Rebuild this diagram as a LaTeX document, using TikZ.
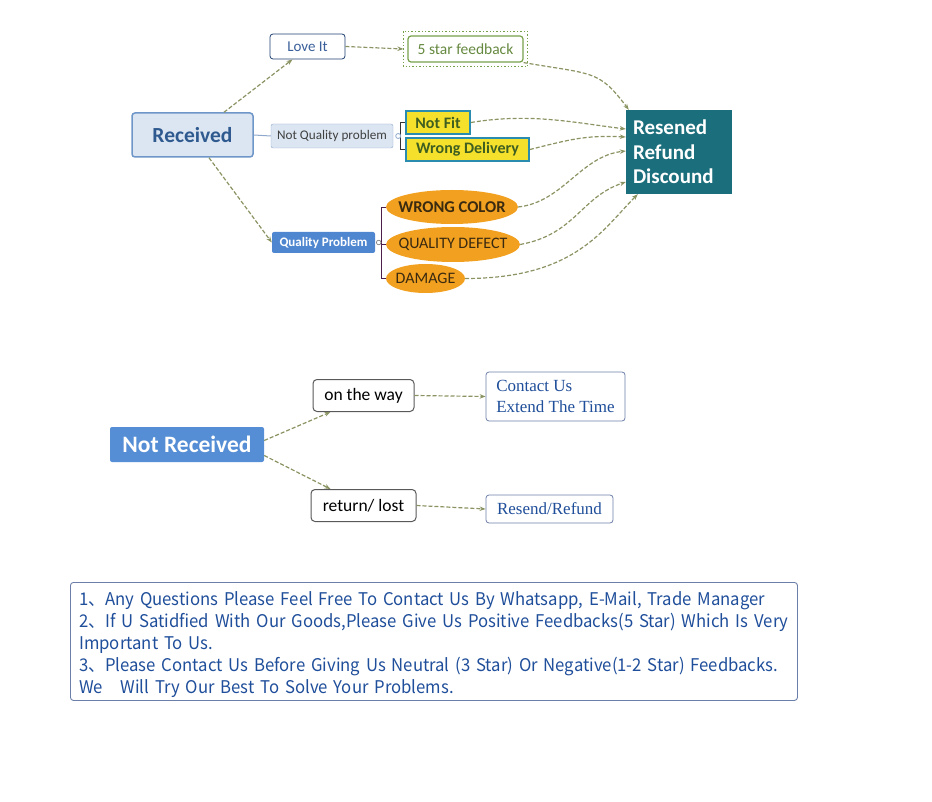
\documentclass[tikz,border=0pt]{standalone}
\usepackage{fontspec}
\setmainfont{Carlito}
\newfontfamily\cjkfont[FakeStretch=0.955]{Noto Sans CJK SC}
\newfontfamily\bookfont{Liberation Serif}
\usepackage{xcolor}
\usetikzlibrary{arrows.meta, positioning, shapes.geometric}

\definecolor{linkgreen}{HTML}{8A9463}
\definecolor{recfill}{HTML}{DCE6F2}
\definecolor{recdraw}{HTML}{6F96C8}
\definecolor{rectext}{HTML}{2F5A8F}
\definecolor{navy}{HTML}{1F3F72}
\definecolor{navytext}{HTML}{3A5F9A}
\definecolor{leafgreen}{HTML}{77A04A}
\definecolor{nqdraw}{HTML}{8EA9CC}
\definecolor{signyellow}{HTML}{F5E02C}
\definecolor{signdraw}{HTML}{2A8DB0}
\definecolor{signtext}{HTML}{3F5F20}
\definecolor{tealbox}{HTML}{1B6F7C}
\definecolor{qpfill}{HTML}{4F86D0}
\definecolor{nrfill}{HTML}{558ED5}
\definecolor{ovalfill}{HTML}{F2A01F}
\definecolor{ovaltext}{HTML}{3A2A10}
\definecolor{notedraw}{HTML}{6C7FA8}
\definecolor{notetext}{HTML}{1F4E9A}
\definecolor{brackpurple}{HTML}{4B1E4B}

\newcommand{\ovallabel}[1]{\makebox[0pt]{#1}}

\begin{document}
\begin{tikzpicture}[x=1pt, y=-1pt,
    every node/.style={inner sep=0pt, align=center},
    link/.style={draw=linkgreen, line width=1.2pt, dash pattern=on 4pt off 2pt,
        -{Stealth[length=6pt, width=4.5pt]}},
    rootbox/.style={draw=recdraw, fill=recfill, line width=1.5pt, rounded corners=3pt,
        text=rectext, font=\fontsize{21.5}{24}\selectfont\bfseries},
    whitebox/.style={draw=navy, fill=white, rounded corners=3pt, line width=0.8pt,
        text=navytext, font=\fontsize{15}{18}\selectfont},
    greybox/.style={draw=black!65, fill=white, rounded corners=4pt, line width=1pt,
        text=black, font=\fontsize{17.5}{20}\selectfont},
    signbox/.style={draw=signdraw, fill=signyellow, line width=1.8pt,
        text=signtext, font=\fontsize{16}{18}\selectfont\bfseries},
    bluebox/.style={rounded corners=2pt, text=white, font=\bfseries},
    oval/.style={ellipse, fill=ovalfill, text=ovaltext, font=\fontsize{16}{18}\selectfont},
    bookbox/.style={draw=notedraw, fill=white, rounded corners=3pt, line width=0.8pt,
        text=notetext, font=\bookfont\fontsize{17}{21}\selectfont, align=left},
]
\useasboundingbox (0,0) rectangle (932,802);

% received branch
\node[rootbox, minimum width=121, minimum height=44] (received) at (192.5,135) {Received};
\node[whitebox, minimum width=75, minimum height=25] (love) at (307.5,46.5) {Love It};
\node[draw=leafgreen, line width=1.2pt, rounded corners=3pt, text=leafgreen!85!black,
    minimum width=115, minimum height=26, font=\fontsize{15.5}{17}\selectfont]
    (star) at (465.5,49) {5 star feedback};
\draw[leafgreen, dotted, line width=1.4pt] ([shift={(-4,-4)}]star.north west) rectangle ([shift={(4,4)}]star.south east);

\node[draw=nqdraw, fill=recfill, rounded corners=2pt, text=black!75,
    minimum width=122, minimum height=24, font=\fontsize{13.2}{15}\selectfont]
    (nq) at (332,136) {Not Quality problem};
\node[signbox, minimum width=64, minimum height=23] (notfit) at (438,122.5) {Not Fit};
\node[signbox, minimum width=123, minimum height=23] (wrongdel) at (467.5,149.5) {Wrong Delivery};

\node[bluebox, fill=qpfill, minimum width=103, minimum height=21,
    font=\fontsize{13}{14}\selectfont\bfseries] (qp) at (323.5,242.5) {Quality Problem};
\node[oval, minimum width=132, minimum height=34, font=\fontsize{16.5}{18}\selectfont\bfseries]
    (wcolor) at (452,207) {\ovallabel{WRONG COLOR}};
\node[oval, minimum width=134, minimum height=35] (qdefect) at (453,244.5) {\ovallabel{QUALITY DEFECT}};
\node[oval, minimum width=79, minimum height=29] (damage) at (425.5,278.5) {\ovallabel{DAMAGE}};

\node[fill=tealbox, text=white, minimum width=106, minimum height=84, align=left,
    font=\fontsize{21}{24.5}\selectfont\bfseries, text width=92]
    (res) at (679,152) {Resened\\Refund\\Discound};

\draw[nqdraw, line width=1pt] (received.east) -- (nq.west);
\draw[black!80, line width=0.8pt] (notfit.west) -- ++(-4.5,0) |- (wrongdel.west);
\draw[nqdraw, fill=white, line width=0.8pt] ([shift={(5,0)}]nq.east) circle (2.5);
\draw[brackpurple, line width=0.8pt] (wcolor.west) -- ++(-4,0) |- (damage.west);
\draw[brackpurple] ([shift={(-4,0)}]qdefect.west) -- (qdefect.west);
\draw[black!50, fill=white, line width=0.7pt] ([shift={(3.5,0)}]qp.east) circle (2.3);

\draw[link] ([shift={(31.5,0)}]received.north) -- ([shift={(-15,0)}]love.south);
\draw[link] ([shift={(16.5,0)}]received.south) -- (qp.west);
\draw[link] (love.east) -- ([shift={(-4,0)}]star.west);
\draw[link] (star.south east) .. controls +(70,12) and +(-30,-40) .. ([shift={(3,0)}]res.north west);
\draw[link] (notfit.east) .. controls +(60,-10) and +(-50,-6) .. ([shift={(0,-23)}]res.west);
\draw[link] (wrongdel.east) .. controls +(40,-10) and +(-40,-2) .. ([shift={(0,-15)}]res.west);
\draw[link] (wcolor.east) .. controls +(45,-5) and +(-45,5) .. ([shift={(0,-1)}]res.west);
\draw[link] (qdefect.east) .. controls +(55,-10) and +(-45,15) .. ([shift={(0,30)}]res.west);
\draw[link] (damage.east) .. controls +(110,0) and +(-35,35) .. ([shift={(12,0)}]res.south west);

% not received branch
\node[bluebox, fill=nrfill, minimum width=154, minimum height=35,
    font=\fontsize{23.5}{26}\selectfont\bfseries] (nr) at (187,444.5) {Not Received};
\node[greybox, minimum width=101, minimum height=32] (otw) at (363.5,395.5) {on the way};
\node[greybox, minimum width=105, minimum height=32] (lost) at (363.5,505.5) {return/ lost};
\node[bookbox, minimum width=139, minimum height=49] (contact) at (555.5,396.5)
    {Contact Us\\Extend The Time};
\node[bookbox, minimum width=127, minimum height=28] (resend) at (549.5,509) {Resend/Refund};

\draw[link] ([shift={(0,-4)}]nr.east) -- ([shift={(-33,0)}]otw.south);
\draw[link] ([shift={(0,11)}]nr.east) -- ([shift={(-33,0)}]lost.north);
\draw[link] (otw.east) -- (contact.west);
\draw[link] (lost.east) -- (resend.west);

% note
\node[draw=notedraw, rounded corners=3pt, line width=0.9pt, anchor=north west,
    minimum width=727, minimum height=118] (note) at (70,582) {};
\node[anchor=north west, text width=715, align=left, text=notetext,
    font=\cjkfont\fontsize{17.5}{22}\selectfont] (notetext) at ([shift={(9,9)}]note.north west)
    {1、Any Questions Please Feel Free To Contact Us By Whatsapp, E-Mail, Trade Manager\\
     2、If U Satidfied With Our Goods,Please Give Us Positive Feedbacks(5 Star) Which Is Very\\
     Important To Us.\\
     3、Please Contact Us Before Giving Us Neutral (3 Star) Or Negative(1-2 Star) Feedbacks.\\
     We\quad Will Try Our Best To Solve Your Problems.};

\end{tikzpicture}
\end{document}
